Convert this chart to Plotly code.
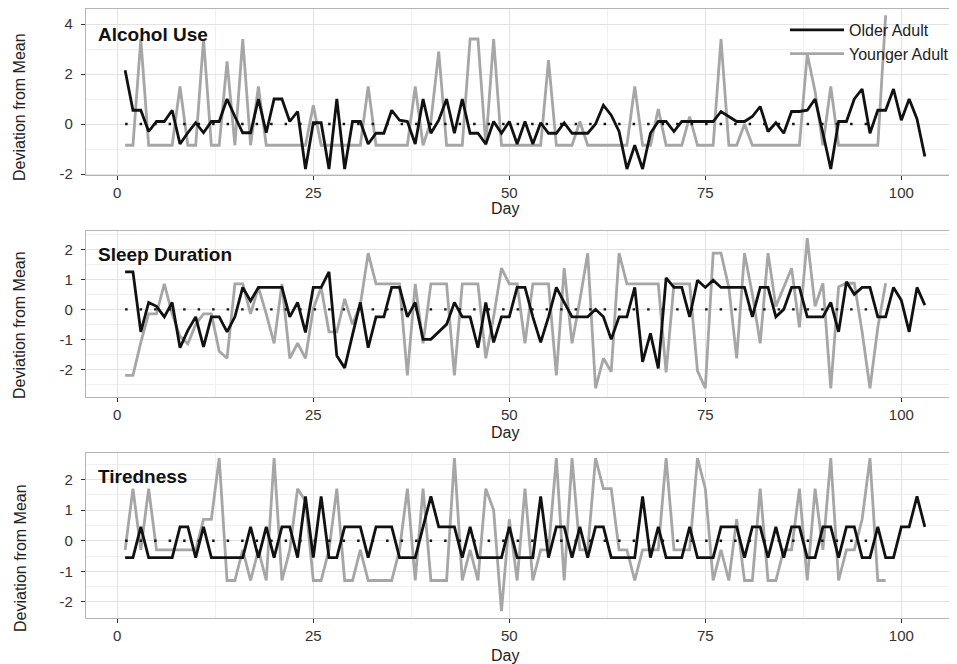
import plotly.graph_objects as go

# The page body adds an 8px margin, so the figure is sized to fill the rest of the window
OFF = 8
W, H = 957 - OFF, 664 - OFF

# ---------------- data ----------------
days_older = list(range(1, 104))
days_younger = list(range(1, 99))
mean_line_days = [1, 97]
mean_line_vals = [0, 0]

alcohol_older = [2.15, 0.55, 0.55, -0.3, 0.1, 0.1, 0.55, -0.8, -0.35, 0.05,
                 -0.35, 0.1, 0.1, 1.0, 0.3, -0.35, -0.35, 1.0, -0.35, 1.0,
                 1.0, 0.1, 0.5, -1.8, 0.05, 0.05, -1.8, 1.0, -1.8, 0.1,
                 0.1, -0.8, -0.37, -0.37, 0.55, 0.15, 0.1, -0.8, 1.0, -0.37,
                 0.15, 1.0, -0.37, 1.0, -0.37, -0.37, -0.8, 0.1, -0.37, 0.1,
                 -0.8, 0.1, -0.8, 0.05, -0.37, -0.37, 0.05, -0.37, -0.37, -0.37,
                 0.0, 0.75, 0.35, -0.3, -1.8, -0.85, -1.8, -0.37, 0.1, 0.1,
                 -0.3, 0.1, 0.1, 0.1, 0.1, 0.1, 0.5, 0.3, 0.1, 0.1,
                 0.3, 0.7, -0.3, 0.05, -0.37, 0.5, 0.5, 0.55, 1.0, -0.37,
                 -1.8, 0.1, 0.1, 1.0, 1.4, -0.37, 0.55, 0.55, 1.4, 0.15,
                 1.0, 0.2, -1.3]

alcohol_younger = [-0.85, -0.85, 3.4, -0.85, -0.85, -0.85, -0.85, 1.5, -0.85, -0.85,
                   3.4, -0.85, -0.85, 2.5, -0.85, 3.4, -0.85, 1.5, -0.85, -0.85,
                   -0.85, -0.85, -0.85, -0.85, 0.75, -0.85, -0.85, -0.85, -0.85, -0.85,
                   -0.85, 1.5, -0.85, -0.85, -0.85, -0.85, -0.85, 1.5, -0.85, 0.1,
                   2.9, -0.85, -0.85, -0.85, 3.4, 3.4, -0.85, 3.4, -0.85, -0.85,
                   -0.85, -0.85, -0.85, -0.85, 2.55, -0.85, -0.85, -0.85, 0.1, -0.85,
                   -0.85, -0.85, -0.85, -0.85, -0.85, 1.5, -0.85, -0.85, 0.6, -0.85,
                   -0.85, -0.85, 0.3, -0.85, -0.85, -0.85, 3.4, -0.85, -0.85, 0.0,
                   -0.85, -0.85, -0.85, -0.85, -0.85, -0.85, -0.85, 2.8, 1.3, -0.85,
                   1.5, -0.85, -0.85, -0.85, -0.85, -0.85, -0.85, 4.35]

sleep_older = [1.25, 1.25, -0.75, 0.23, 0.1, -0.25, 0.23, -1.28, -0.7, -0.25,
               -1.25, -0.25, -0.25, -0.75, -0.25, 0.73, 0.28, 0.73, 0.73, 0.73,
               0.73, -0.25, 0.23, -0.77, 0.73, 0.73, 1.25, -1.55, -1.95, -0.85,
               0.23, -1.28, -0.25, -0.25, 0.73, 0.73, -0.25, 0.23, -1.0, -1.0,
               -0.75, -0.5, 0.23, -0.25, -0.25, -1.28, 0.23, -1.1, -0.25, -0.25,
               0.73, 0.73, -0.25, -1.1, -0.25, 0.73, 0.23, -0.25, -0.25, -0.25,
               0.0, -0.25, -1.0, -0.25, -0.25, 0.73, -1.75, -0.8, -1.97, 1.05,
               0.73, 0.73, -0.25, 0.97, 0.73, 0.97, 0.73, 0.73, 0.73, 0.73,
               -0.25, 0.73, 0.73, -0.25, 0.0, 0.73, 0.73, -0.25, -0.25, -0.25,
               0.23, -0.75, 0.92, 0.5, 0.73, 0.73, -0.25, -0.25, 0.73, 0.3,
               -0.75, 0.73, 0.14]

sleep_younger = [-2.2, -2.2, -1.1, -0.15, -0.15, 0.85, -0.15, -0.9, -1.15, -0.5,
                 -0.15, -0.15, -1.4, -1.63, 0.85, 0.85, -0.15, 0.73, -0.15, -1.13,
                 0.85, -1.63, -1.13, -1.63, 0.03, 0.73, -0.75, -0.75, 0.35, -0.5,
                 0.15, 1.87, 0.85, 0.85, 0.85, 0.85, -2.2, 0.85, -1.13, 0.85,
                 0.85, 0.85, -2.2, 0.85, 0.85, 0.85, -1.63, -0.25, 1.37, 0.85,
                 0.85, -1.13, 0.85, 0.85, 0.85, -2.2, 1.37, -1.13, 0.3, 1.87,
                 -2.63, -1.63, -2.08, 1.87, 0.85, 0.85, 0.85, 0.85, 0.85, -2.1,
                 0.85, 0.85, 0.85, -2.05, -2.63, 1.87, 1.87, 0.73, -1.63, 1.87,
                 0.5, -1.13, 1.87, 0.1, 0.75, 1.37, -0.6, 2.37, 0.1, 0.87,
                 -2.63, 0.75, 0.87, 0.87, -0.75, -2.63, -0.6, 0.87]

tired_older = [-0.55, -0.55, 0.45, -0.55, -0.55, -0.55, -0.55, 0.45, 0.45, -0.55,
               0.45, -0.55, -0.55, -0.55, -0.55, -0.55, 0.45, -0.55, 0.45, -0.55,
               0.45, 0.45, -0.55, 1.45, -0.55, 1.45, -0.55, -0.55, 0.45, 0.45,
               0.45, -0.55, 0.45, 0.45, 0.45, -0.55, -0.55, -0.55, 0.45, 1.45,
               0.45, 0.45, 0.45, -0.55, 0.45, -0.55, -0.55, -0.55, -0.55, 0.45,
               -0.55, -0.55, -0.55, 1.45, -0.55, 0.45, 0.45, -0.55, 0.45, -0.55,
               0.45, 0.45, -0.55, -0.55, -0.55, -0.55, 1.45, -0.55, 0.45, -0.55,
               -0.55, -0.55, 0.45, -0.55, -0.55, -0.55, 0.45, 0.45, 0.45, -0.55,
               0.45, 0.45, -0.55, 0.45, -0.55, 0.45, 0.45, -0.55, -0.55, 0.45,
               0.45, -0.55, 0.45, 0.45, -0.55, -0.55, 0.45, -0.55, -0.55, 0.45,
               0.45, 1.45, 0.45]

tired_younger = [-0.3, 1.7, -0.3, 1.7, -0.3, -0.3, -0.3, -0.3, -0.3, -0.3,
                 0.7, 0.7, 2.7, -1.3, -1.3, -0.3, -1.3, -0.3, -1.3, 2.7,
                 -1.3, -0.3, 1.7, 1.3, -1.3, -1.3, -0.3, 1.7, -1.3, -1.3,
                 -0.3, -1.3, -1.3, -1.3, -1.3, -0.3, 1.7, -1.3, 1.7, -1.3,
                 -1.3, -1.3, 2.7, -1.3, -0.3, -1.3, 1.7, 1.0, -2.3, 0.7,
                 -1.3, 1.7, -1.3, -0.3, -0.3, 2.7, -1.3, 2.7, -0.3, -0.3,
                 2.7, 1.7, 1.7, -0.3, -0.3, -1.3, -0.3, -0.3, -0.3, 2.7,
                 -0.3, -0.3, -0.3, 2.7, 1.7, -1.3, -0.3, -1.3, 0.7, -1.3,
                 -1.3, 1.7, -1.3, -1.3, -0.3, -0.3, 1.7, -1.3, 1.7, -0.3,
                 2.7, -1.3, -0.3, -0.3, 0.7, 2.7, -1.3, -1.3]

panel_titles = ["Alcohol Use", "Sleep Duration", "Tiredness"]
series_names = ["Older Adult", "Younger Adult"]
x_tick_vals = [0, 25, 50, 75, 100]
x_tick_text = ["0", "25", "50", "75", "100"]
y_tick_vals = [[-2, 0, 2, 4], [-2, -1, 0, 1, 2], [-2, -1, 0, 1, 2]]
y_tick_text = [["-2", "0", "2", "4"], ["-2", "-1", "0", "1", "2"], ["-2", "-1", "0", "1", "2"]]
x_title = "Day"
y_title = "Deviation from Mean"

# ---------------- layout geometry (screen pixels) ----------------
panels = [
    dict(top=9, bottom=175, yrange=[-2.04, 4.6], ydminor=1,
         title_y=35, ylab_y=107, day_y=208,
         older=alcohol_older, younger=alcohol_younger),
    dict(top=231, bottom=397, yrange=[-2.92, 2.61], ydminor=0.5,
         title_y=255, ylab_y=325, day_y=432,
         older=sleep_older, younger=sleep_younger),
    dict(top=453, bottom=618, yrange=[-2.526, 2.866], ydminor=0.5,
         title_y=476, ylab_y=558, day_y=655,
         older=tired_older, younger=tired_younger),
]


def px(x):
    return (x - OFF) / W


def py(y):
    return 1 - (y - OFF) / H


LEFT = 86
XRANGE = [-3.99, 107.1]
FONT = "Liberation Sans, Arial, Helvetica, sans-serif"
BLACK = "#111111"
GREY = "#a6a6a6"
BORDER = "#b4b4b4"
GRID = "#e2e2e2"
GRID_MINOR = "#f0f0f0"

fig = go.Figure()
layout = dict(
    width=W, height=H,
    margin=dict(l=0, r=0, t=0, b=0, autoexpand=False),
    paper_bgcolor="white", plot_bgcolor="white",
    font=dict(family=FONT, color="#222222"),
    showlegend=True,
    legend=dict(x=px(785), y=py(13), xanchor="left", yanchor="top",
                bgcolor="rgba(0,0,0,0)", font=dict(size=16, color="#222222"),
                itemwidth=54, tracegroupgap=0),
)

annotations = []
for i, p in enumerate(panels):
    n = "" if i == 0 else str(i + 1)
    xa, ya = "x" + n, "y" + n
    # younger (grey) below, older (black) above
    fig.add_trace(go.Scatter(x=days_younger, y=p["younger"], mode="lines",
                             name=series_names[1], legendgroup="y", showlegend=(i == 0),
                             legendrank=2, line=dict(color=GREY, width=2.8),
                             xaxis=xa, yaxis=ya))
    fig.add_trace(go.Scatter(x=mean_line_days, y=mean_line_vals, mode="lines",
                             showlegend=False, hoverinfo="skip",
                             line=dict(color=BLACK, width=2.4, dash="2.5px,12px"),
                             xaxis=xa, yaxis=ya))
    fig.add_trace(go.Scatter(x=days_older, y=p["older"], mode="lines",
                             name=series_names[0], legendgroup="o", showlegend=(i == 0),
                             legendrank=1, line=dict(color=BLACK, width=2.8),
                             xaxis=xa, yaxis=ya))

    layout["xaxis" + n] = dict(
        domain=[px(LEFT), 1.0], anchor=ya, range=XRANGE, automargin=False,
        tickmode="array", tickvals=x_tick_vals, ticktext=x_tick_text,
        ticks="outside", ticklen=4, tickwidth=1, tickcolor="#333333",
        tickfont=dict(size=15, color="#333333"),
        showline=True, mirror=True, linecolor=BORDER, linewidth=1.3,
        showgrid=True, gridcolor=GRID, gridwidth=1, zeroline=False,
        minor=dict(tick0=0, dtick=12.5, showgrid=True, gridcolor=GRID_MINOR, gridwidth=1),
    )
    layout["yaxis" + n] = dict(
        domain=[py(p["bottom"]), py(p["top"])], anchor=xa, range=p["yrange"],
        automargin=False,
        tickmode="array", tickvals=y_tick_vals[i], ticktext=y_tick_text[i],
        ticks="outside", ticklen=4, tickwidth=1, tickcolor="#333333",
        tickfont=dict(size=15, color="#333333"), ticklabelstandoff=5,
        showline=True, linecolor=BORDER, linewidth=1.3,
        showgrid=True, gridcolor=GRID, gridwidth=1, zeroline=False,
        minor=dict(tick0=0, dtick=p["ydminor"], showgrid=True, gridcolor=GRID_MINOR, gridwidth=1),
    )
    annotations.append(dict(text="<b>%s</b>" % panel_titles[i], xref="paper", yref="paper",
                            x=px(96), y=py(p["title_y"]), xanchor="left", yanchor="middle",
                            showarrow=False, font=dict(size=19, color="#111111")))
    annotations.append(dict(text=y_title, xref="paper", yref="paper", textangle=-90,
                            x=px(20), y=py(p["ylab_y"]), xanchor="center", yanchor="middle",
                            showarrow=False, font=dict(size=16, color="#222222")))
    annotations.append(dict(text=x_title, xref="paper", yref="paper",
                            x=px(504.5), y=py(p["day_y"]), xanchor="center", yanchor="middle",
                            showarrow=False, font=dict(size=16, color="#222222")))

layout["annotations"] = annotations
fig.update_layout(**layout)
fig.write_html("out.html")
